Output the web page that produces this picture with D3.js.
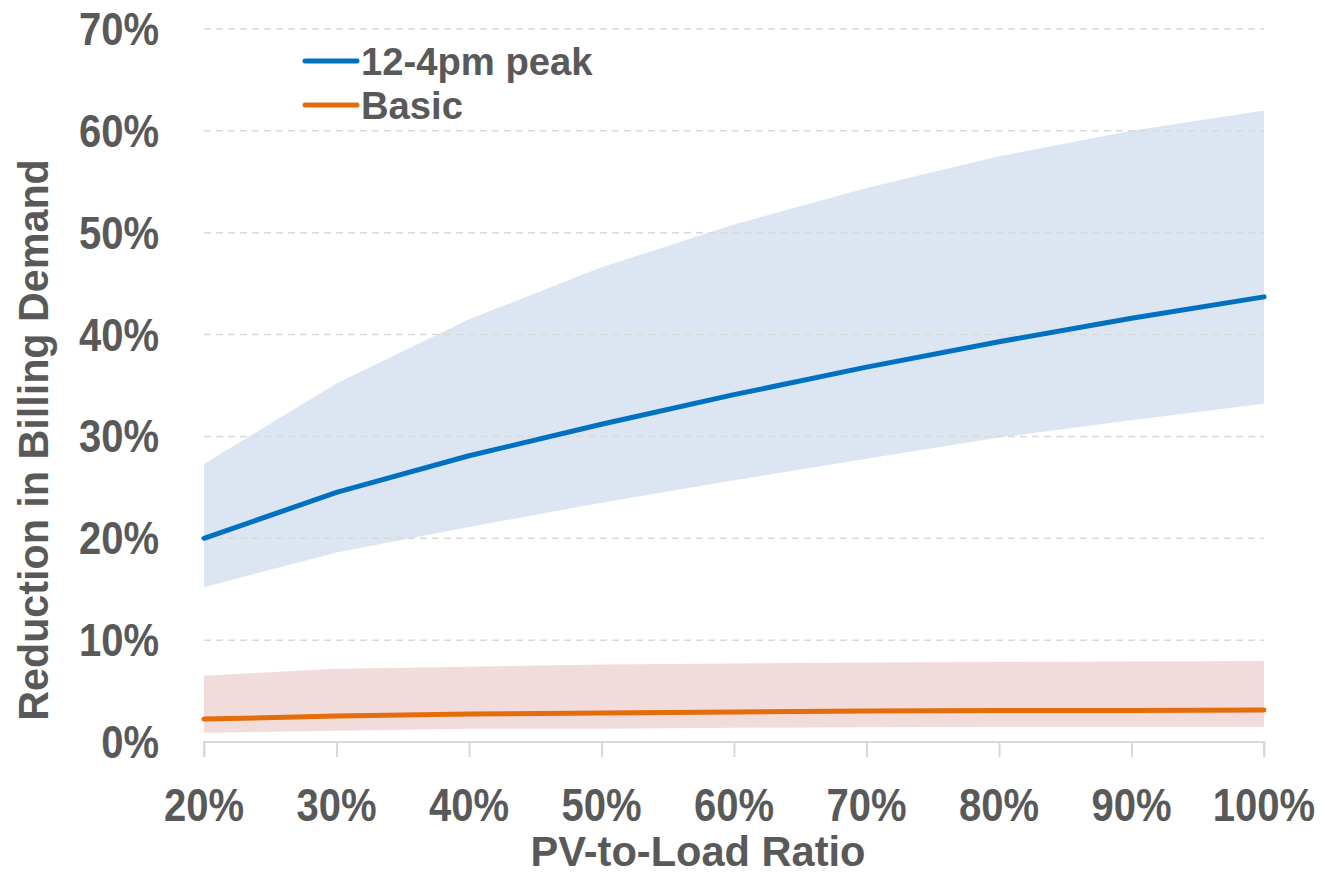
<!DOCTYPE html>
<html><head><meta charset="utf-8">
<script src="https://cdn.jsdelivr.net/npm/d3@7"></script>
<style>
html,body{margin:0;padding:0;background:#fff;}
svg text{font-family:"Liberation Sans Narrow","Arial Narrow","Liberation Sans",sans-serif;font-weight:bold;fill:#595959;}
</style></head>
<body><svg id="c" width="1325" height="874"></svg>
<script>
const ratios = [20, 30, 40, 50, 60, 70, 80, 90, 100];
const xTickLabels = ["20%","30%","40%","50%","60%","70%","80%","90%","100%"];
const yTicks = [0, 0.1, 0.2, 0.3, 0.4, 0.5, 0.6, 0.7];
const peakMid = [0.200, 0.245, 0.281, 0.312, 0.341, 0.368, 0.393, 0.416, 0.437];
const peakHigh = [0.273, 0.352, 0.415, 0.466, 0.508, 0.544, 0.575, 0.600, 0.620];
const peakLow = [0.152, 0.186, 0.211, 0.235, 0.257, 0.278, 0.299, 0.316, 0.332];
const basicMid = [0.0225, 0.0255, 0.0275, 0.0285, 0.0295, 0.0305, 0.031, 0.031, 0.0315];
const basicHigh = [0.065, 0.072, 0.074, 0.076, 0.077, 0.078, 0.0785, 0.079, 0.0795];
const basicLow = [0.009, 0.011, 0.013, 0.013, 0.014, 0.0145, 0.015, 0.015, 0.015];
const seriesNames = ["12-4pm peak", "Basic"];

const svg = d3.select("#c");
const x = d3.scaleLinear().domain([20,100]).range([204,1264]);
const y = d3.scaleLinear().domain([0,0.7]).range([742,29]);

// bands
const area = (hi, lo) => d3.area().x((d,i)=>x(ratios[i])).y0((d,i)=>y(lo[i])).y1((d,i)=>y(hi[i]));
svg.append("path").datum(ratios).attr("d", area(peakHigh, peakLow)).attr("fill","#DCE6F2");
svg.append("path").datum(ratios).attr("d", area(basicHigh, basicLow)).attr("fill","#F2DCDB");

// gridlines
svg.append("g").selectAll("line").data(yTicks.filter(v=>v>0)).join("line")
  .attr("x1", x(20)).attr("x2", x(100)).attr("y1", d=>y(d)).attr("y2", d=>y(d))
  .attr("stroke","#D9D9D9").attr("stroke-width",1.5).attr("stroke-dasharray","7,5");

// x axis
const xAxis = d3.axisBottom(x).tickValues(ratios).tickSize(15).tickFormat("");
const gx = svg.append("g").attr("transform",`translate(0,${y(0)})`).call(xAxis);
gx.select(".domain").attr("stroke","#D9D9D9").attr("stroke-width",2).attr("d",`M${x(20)},15V0H${x(100)}V15`);
gx.selectAll(".tick line").attr("stroke","#D9D9D9").attr("stroke-width",2);
svg.append("g").selectAll("text").data(ratios).join("text")
  .attr("transform", d=>`translate(${x(d)},821) scale(0.87,1)`).attr("text-anchor","middle")
  .attr("font-size",46).text((d,i)=>xTickLabels[i]);

// y tick labels
svg.append("g").selectAll("text").data(yTicks).join("text")
  .attr("transform", d=>`translate(159,${y(d)+16}) scale(0.87,1)`).attr("text-anchor","end")
  .attr("font-size",46).text(d=>d3.format(".0%")(d));

// lines
const line = vals => d3.line().x((d,i)=>x(ratios[i])).y((d,i)=>y(vals[i]));
svg.append("path").datum(ratios).attr("d", line(peakMid)).attr("fill","none")
  .attr("stroke","#0070C0").attr("stroke-width",5).attr("stroke-linecap","round").attr("stroke-linejoin","round");
svg.append("path").datum(ratios).attr("d", line(basicMid)).attr("fill","none")
  .attr("stroke","#E46C0A").attr("stroke-width",5).attr("stroke-linecap","round").attr("stroke-linejoin","round");

// axis titles
svg.append("text").attr("transform","translate(698,866) scale(0.99,1)").attr("text-anchor","middle")
  .attr("font-size",42).text("PV-to-Load Ratio");
svg.append("text").attr("transform","translate(48,440) rotate(-90) scale(0.96,1)").attr("text-anchor","middle")
  .attr("font-size",43).text("Reduction in Billing Demand");

// legend
const legColors = ["#0070C0","#E46C0A"];
const leg = svg.append("g");
seriesNames.forEach((n,i)=>{
  const ly = 61 + i*44;
  leg.append("line").attr("x1",305).attr("x2",357).attr("y1",ly).attr("y2",ly)
    .attr("stroke",legColors[i]).attr("stroke-width",5).attr("stroke-linecap","round");
  leg.append("text").attr("transform",`translate(361,${ly+14}) scale(0.98,1)`).attr("font-size",39).text(n);
});
</script></body></html>
